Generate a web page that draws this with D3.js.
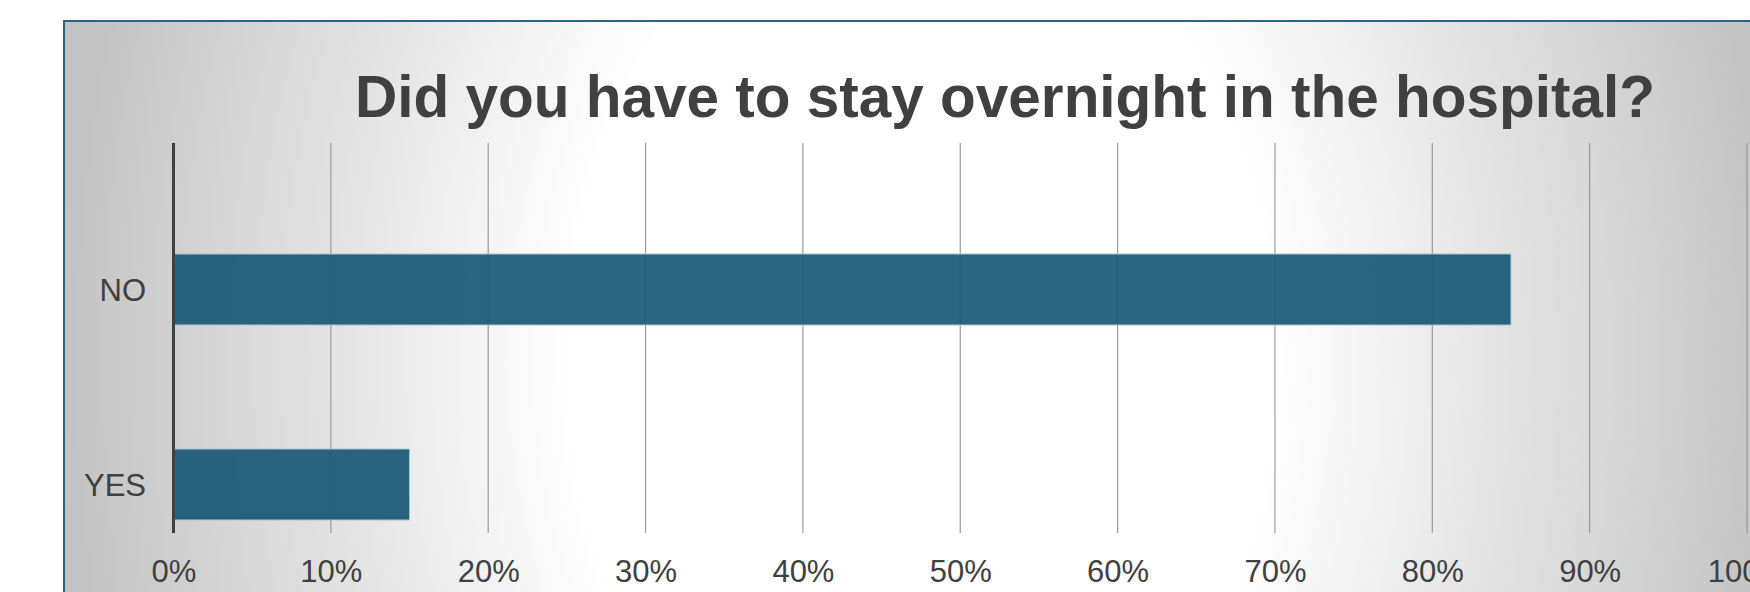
<!DOCTYPE html>
<html>
<head>
<meta charset="utf-8">
<script src="https://cdn.jsdelivr.net/npm/d3@7"></script>
<style>
  html, body { margin: 0; padding: 0; background: #ffffff; }
  svg { display: block; }
  text { font-family: "Liberation Sans", Arial, sans-serif; fill: #404040; }
</style>
</head>
<body>
<svg id="chart" width="1750" height="592"></svg>
<script>
// Survey answers and their share of respondents (%)
const categories = ["NO", "YES"];
const shares = [85, 15];
const tickValues = [0, 10, 20, 30, 40, 50, 60, 70, 80, 90, 100];
const tickLabels = ["0%", "10%", "20%", "30%", "40%", "50%", "60%", "70%", "80%", "90%", "100%"];
const titleText = "Did you have to stay overnight in the hospital?";

const svg = d3.select("#chart");
const W = 1750, H = 592;

// Panel background: elliptical white centre fading to grey at the sides
const defs = svg.append("defs");
const cx = 920, cy = 360;
const bg = defs.append("radialGradient")
  .attr("id", "bgGrad")
  .attr("gradientUnits", "userSpaceOnUse")
  .attr("cx", cx).attr("cy", cy).attr("r", 860)
  .attr("gradientTransform", `translate(${cx},${cy}) scale(1,1.36) translate(${-cx},${-cy})`);
bg.append("stop").attr("offset", 0).attr("stop-color", "#ffffff");
bg.append("stop").attr("offset", 0.41).attr("stop-color", "#ffffff");
bg.append("stop").attr("offset", 1).attr("stop-color", "#c3c3c3");

svg.append("rect")
  .attr("x", 64).attr("y", 21)
  .attr("width", W + 20).attr("height", H + 20)
  .attr("fill", "url(#bgGrad)")
  .attr("stroke", "#2b6384")
  .attr("stroke-width", 2);

// Scales
const plot = { left: 173.5, right: 1747, top: 143, bottom: 533 };
const x = d3.scaleLinear().domain([0, 100]).range([plot.left, plot.right]);
const y = d3.scaleBand()
  .domain(categories)
  .range([192, 582])
  .paddingInner(0.636)
  .paddingOuter(0.318);

// Vertical gridlines
svg.append("g")
  .selectAll("line")
  .data(tickValues.slice(1))
  .join("line")
  .attr("x1", d => x(d)).attr("x2", d => x(d))
  .attr("y1", plot.top).attr("y2", plot.bottom)
  .attr("stroke", "#9a9a9a")
  .attr("stroke-width", 1.2);

// Bars
svg.append("g")
  .selectAll("rect")
  .data(categories.map((c, i) => ({ c, v: shares[i] })))
  .join("rect")
  .attr("x", x(0))
  .attr("y", d => y(d.c))
  .attr("width", d => x(d.v) - x(0))
  .attr("height", y.bandwidth())
  .attr("fill", "#1b5877")
  .attr("fill-opacity", 0.93)
  .attr("stroke", "#a9c4d3")
  .attr("stroke-width", 1);

// Category axis line
svg.append("line")
  .attr("x1", x(0)).attr("x2", x(0))
  .attr("y1", plot.top).attr("y2", plot.bottom)
  .attr("stroke", "#404040")
  .attr("stroke-width", 3);

// X tick labels via d3 axis
const xAxis = d3.axisBottom(x)
  .tickValues(tickValues)
  .tickFormat((d, i) => tickLabels[i])
  .tickSize(0)
  .tickPadding(0);
const gx = svg.append("g")
  .attr("transform", `translate(0, ${plot.bottom})`)
  .call(xAxis);
gx.select(".domain").remove();
gx.selectAll("text")
  .attr("dy", null)
  .attr("y", 48.5)
  .style("font-family", "'Liberation Sans', Arial, sans-serif")
  .style("font-size", "31px")
  .style("fill", "#404040");

// Y category labels via d3 axis
const yAxis = d3.axisLeft(y).tickSize(0).tickPadding(0);
const gy = svg.append("g")
  .attr("transform", `translate(146, 0)`)
  .call(yAxis);
gy.select(".domain").remove();
gy.selectAll("text")
  .attr("dy", "0.36em")
  .style("font-family", "'Liberation Sans', Arial, sans-serif")
  .style("font-size", "31px")
  .style("fill", "#404040");

// Title
svg.append("text")
  .attr("x", 1005)
  .attr("y", 117)
  .attr("text-anchor", "middle")
  .style("font-size", "58.5px")
  .style("font-weight", "bold")
  .style("fill", "#404040")
  .text(titleText);
</script>
</body>
</html>
